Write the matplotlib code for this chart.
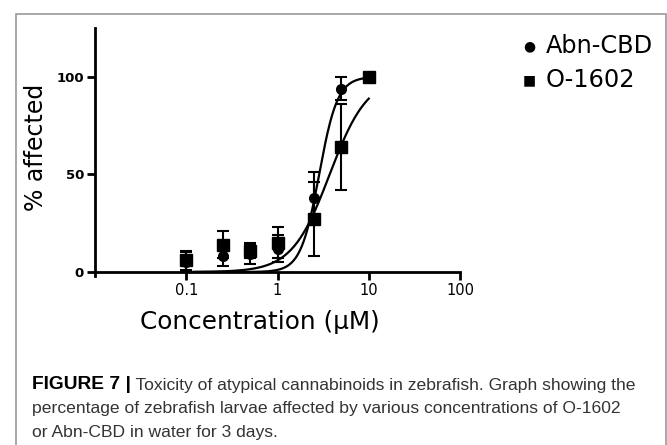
import numpy as np
import matplotlib.pyplot as plt
from matplotlib.patches import Rectangle

# concentrations (uM)
conc = [0.1, 0.25, 0.5, 1, 2.5, 5, 10]

abn_y = [5, 8, 9, 12, 38, 94, 100]
abn_err = [5, 5, 5, 7, 13, 6, 0]
o16_y = [6, 14, 11, 15, 27, 64, 100]
o16_err = [5, 7, 4, 8, 19, 22, 0]

# Hill fit parameters (top, ec50, slope)
abn_fit = (100, 2.86, 4.3)
o16_fit = (100, 3.73, 2.1)

xticks = [0.1, 1, 10, 100]
xticklabels = ['0.1', '1', '10', '100']
yticks = [0, 50, 100]

fig = plt.figure(figsize=(6.67, 4.45), dpi=100)
fig.patches.append(Rectangle((16/667, -0.1), (666-16)/667, 1.1 - 14/445,
                             transform=fig.transFigure, fill=False,
                             edgecolor='#999999', lw=1.2))

ax = fig.add_axes([95/667, 1-272/445, (460-95)/667, (272-28)/445])

xx = np.logspace(np.log10(0.12), 1, 300)
for p in (abn_fit, o16_fit):
    ax.plot(xx, p[0] / (1 + (p[1]/xx)**p[2]), color='black', lw=1.6, zorder=2)

ax.errorbar(conc, o16_y, yerr=o16_err, fmt='s', color='black', ms=8,
            capsize=4, elinewidth=1.5, capthick=1.5, zorder=3)
ax.errorbar(conc, abn_y, yerr=abn_err, fmt='o', color='black', ms=7,
            capsize=4, elinewidth=1.5, capthick=1.5, zorder=3)

ax.set_xscale('log')
ax.set_xlim(0.01, 100)
ax.set_ylim(0, 125)
ax.set_xticks(xticks)
ax.set_xticklabels(xticklabels, fontsize=10.5)
ax.minorticks_off()
ax.set_yticks(yticks)
ax.set_yticklabels([str(v) for v in yticks], fontsize=9.5, fontweight='bold')
for s in ['top', 'right']:
    ax.spines[s].set_visible(False)
for s in ['left', 'bottom']:
    ax.spines[s].set_linewidth(2)
ax.tick_params(width=2, length=6, direction='out', pad=2)
ax.spines['left'].set_bounds(-2, 125)

fig.text(36/667, 1-147/445, '% affected', fontsize=17, rotation=90,
         ha='center', va='center')
fig.text(260/667, 1-322/445, 'Concentration (\u03bcM)', fontsize=17.8,
         ha='center', va='center')

# legend
fig.text(529/667, 1-46/445, '\u25cf', fontsize=10, ha='center', va='center')
fig.text(546/667, 1-46/445, 'Abn-CBD', fontsize=17.3, va='center')
fig.text(529/667, 1-80/445, '\u25a0', fontsize=10, ha='center', va='center')
fig.text(546/667, 1-80/445, 'O-1602', fontsize=17.3, va='center')

cap_font = ['Liberation Sans', 'DejaVu Sans']
cs = 12.6
t1 = fig.text(32/667, 1-389/445, 'FIGURE 7 |', fontsize=13.8, fontweight='bold',
              family=cap_font, va='baseline')
plt.annotate(' Toxicity of atypical cannabinoids in zebrafish. Graph showing the',
             xy=(1, 0), xycoords=t1, fontsize=cs, family=cap_font,
             va='bottom', color='#333333')
fig.text(32/667, 1-413/445, 'percentage of zebrafish larvae affected by various concentrations of O-1602',
         fontsize=cs, family=cap_font, va='baseline', color='#333333')
fig.text(32/667, 1-437/445, 'or Abn-CBD in water for 3 days.',
         fontsize=cs, family=cap_font, va='baseline', color='#333333')

fig.savefig('out.png', dpi=100)
